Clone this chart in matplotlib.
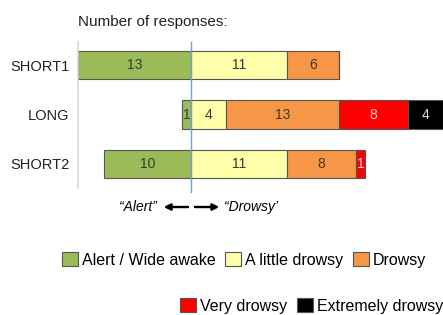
import matplotlib
matplotlib.use('Agg')
import matplotlib.pyplot as plt
from matplotlib.patches import Patch
import numpy as np

plt.rcParams['font.family'] = ['Liberation Sans', 'DejaVu Sans']

# data
groups = ['SHORT1', 'LONG', 'SHORT2']
categories = ['Alert / Wide awake', 'A little drowsy', 'Drowsy', 'Very drowsy', 'Extremely drowsy']
alert = [13, 1, 10]
little = [11, 4, 11]
drowsy = [6, 13, 8]
very = [0, 8, 1]
extreme = [0, 4, 0]

colors = ['#9BBB59', '#FFFFAA', '#F79646', '#FF0000', '#000000']
txt_colors = ['#3A3A2A', '#3A3A2A', '#3A3A2A', '#FFD0D0', '#DDDDDD']

W, H = 443, 315
fig = plt.figure(figsize=(W / 100, H / 100), dpi=100)
ax = fig.add_axes([78 / W, 1 - 188 / H, (W - 78) / W, (188 - 42) / H])

y = np.array([2, 1, 0])
series = [little, drowsy, very, extreme]

# alert goes to the left of zero
ax.barh(y, [-a for a in alert], height=0.57, color=colors[0], edgecolor='#555555', linewidth=0.8)
for yi, a in zip(y, alert):
    if a:
        ax.text(-a / 2, yi, str(a), ha='center', va='center', fontsize=10, color=txt_colors[0])

left = np.zeros(3)
for k, vals in enumerate(series):
    vals = np.array(vals)
    ax.barh(y, vals, left=left, height=0.57, color=colors[k + 1], edgecolor='#555555', linewidth=0.8)
    for yi, l, v in zip(y, left, vals):
        if v:
            ax.text(l + v / 2, yi, str(v), ha='center', va='center', fontsize=10, color=txt_colors[k + 1])
    left = left + vals

ax.set_xlim(-13, 29)
ax.set_ylim(-0.49, 2.47)
ax.plot([0, 0], [-0.57, 2.47], color='#7BA0CF', linewidth=1, clip_on=False, zorder=5)

ax.set_yticks(y)
ax.set_yticklabels(groups, fontsize=10.5, color='#222222')
ax.tick_params(axis='y', length=0, pad=6)
ax.set_xticks([])
for s in ['top', 'right', 'bottom']:
    ax.spines[s].set_visible(False)
ax.spines['left'].set_color('#D9D9D9')
ax.spines['left'].set_linewidth(1.2)

fig.text(78 / W, 1 - 22 / H, 'Number of responses:', fontsize=11, ha='left', va='center', color='#222222')

# alert / drowsy arrows
fig.text(157 / W, 1 - 207 / H, '\u201cAlert\u201d', fontsize=10, style='italic', ha='right', va='center')
fig.text(224 / W, 1 - 207 / H, '\u201cDrowsy\u2019', fontsize=10, style='italic', ha='left', va='center')
fig.add_artist(plt.annotate('', xy=(164 / W, 1 - 207 / H), xytext=(188 / W, 1 - 207 / H),
                            xycoords='figure fraction', textcoords='figure fraction',
                            arrowprops=dict(arrowstyle='-|>', color='black', lw=1.6, mutation_scale=9,
                                            shrinkA=0, shrinkB=0)))
fig.add_artist(plt.annotate('', xy=(219 / W, 1 - 207 / H), xytext=(195 / W, 1 - 207 / H),
                            xycoords='figure fraction', textcoords='figure fraction',
                            arrowprops=dict(arrowstyle='-|>', color='black', lw=1.6, mutation_scale=9,
                                            shrinkA=0, shrinkB=0)))

handles = [Patch(facecolor=c, edgecolor='#555555', linewidth=0.8) for c in colors]
leg1 = fig.legend(handles[:3], categories[:3], loc='center left', bbox_to_anchor=(62 / W, 1 - 260 / H),
                  ncol=3, frameon=False, fontsize=11.5, handlelength=1.0, handleheight=1.0,
                  handletextpad=0.25, columnspacing=0.6, borderpad=0, borderaxespad=0)
leg2 = fig.legend(handles[3:], categories[3:], loc='center left', bbox_to_anchor=(180 / W, 1 - 306 / H),
                  ncol=2, frameon=False, fontsize=11.5, handlelength=1.0, handleheight=1.0,
                  handletextpad=0.25, columnspacing=0.6, borderpad=0, borderaxespad=0)

fig.savefig('out.png', dpi=100)
